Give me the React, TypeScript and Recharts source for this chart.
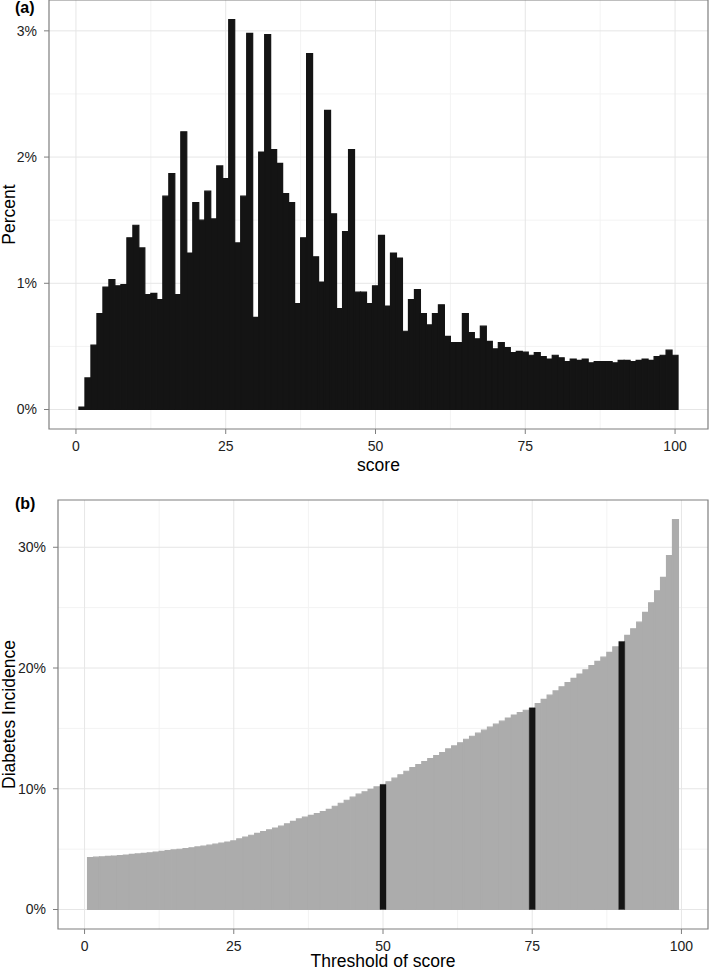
import React from 'react';
import { BarChart, Bar, XAxis, YAxis, CartesianGrid, ReferenceArea } from 'recharts';

// ---------- Panel (a): histogram of score ----------
const scores = [
  1, 2, 3, 4, 5, 6, 7, 8, 9, 10, 11, 12, 13, 14, 15, 16, 17, 18, 19, 20,
  21, 22, 23, 24, 25, 26, 27, 28, 29, 30, 31, 32, 33, 34, 35, 36, 37, 38, 39, 40,
  41, 42, 43, 44, 45, 46, 47, 48, 49, 50, 51, 52, 53, 54, 55, 56, 57, 58, 59, 60,
  61, 62, 63, 64, 65, 66, 67, 68, 69, 70, 71, 72, 73, 74, 75, 76, 77, 78, 79, 80,
  81, 82, 83, 84, 85, 86, 87, 88, 89, 90, 91, 92, 93, 94, 95, 96, 97, 98, 99, 100,
];
const percentValues = [
  0.02, 0.25, 0.51, 0.76, 0.97, 1.03, 0.98, 0.99, 1.36, 1.46,
  1.28, 0.91, 0.92, 0.87, 1.69, 1.87, 0.91, 2.2, 1.24, 1.64,
  1.5, 1.73, 1.51, 1.93, 1.83, 3.09, 1.32, 1.69, 2.98, 0.73,
  2.04, 2.97, 2.06, 1.95, 1.71, 1.64, 0.84, 1.36, 2.82, 1.21,
  1.01, 2.37, 1.55, 0.8, 1.41, 2.06, 0.93, 0.93, 0.84, 0.98,
  1.38, 0.82, 1.24, 1.2, 0.62, 0.87, 0.95, 0.76, 0.67, 0.76,
  0.83, 0.58, 0.53, 0.53, 0.76, 0.61, 0.56, 0.66, 0.54, 0.48,
  0.53, 0.49, 0.45, 0.46, 0.455, 0.43, 0.45, 0.42, 0.4, 0.43,
  0.41, 0.38, 0.4, 0.39, 0.4, 0.37, 0.38, 0.38, 0.38, 0.37,
  0.39, 0.39, 0.38, 0.39, 0.4, 0.39, 0.42, 0.43, 0.47, 0.43,
];
const scoreTicks = [0, 25, 50, 75, 100];
const scoreMinorGrid = [12.5, 37.5, 62.5, 87.5];
const percentTicks = [0, 1, 2, 3];
const percentMinorGrid = [0.5, 1.5, 2.5];

// ---------- Panel (b): incidence by threshold ----------
const thresholds = [
  1, 2, 3, 4, 5, 6, 7, 8, 9, 10, 11, 12, 13, 14, 15, 16, 17, 18, 19, 20,
  21, 22, 23, 24, 25, 26, 27, 28, 29, 30, 31, 32, 33, 34, 35, 36, 37, 38, 39, 40,
  41, 42, 43, 44, 45, 46, 47, 48, 49, 50, 51, 52, 53, 54, 55, 56, 57, 58, 59, 60,
  61, 62, 63, 64, 65, 66, 67, 68, 69, 70, 71, 72, 73, 74, 75, 76, 77, 78, 79, 80,
  81, 82, 83, 84, 85, 86, 87, 88, 89, 90, 91, 92, 93, 94, 95, 96, 97, 98, 99,
];
const incidenceValues = [
  4.3, 4.33, 4.36, 4.4, 4.43, 4.47, 4.51, 4.56, 4.6, 4.65,
  4.7, 4.75, 4.81, 4.87, 4.93, 4.99, 5.05, 5.11, 5.18, 5.25,
  5.33, 5.41, 5.5, 5.59, 5.68, 5.85, 6.0, 6.15, 6.3, 6.45,
  6.6, 6.75, 6.9, 7.1, 7.3, 7.5, 7.65, 7.8, 7.95, 8.1,
  8.3, 8.55, 8.8, 9.05, 9.3, 9.55, 9.75, 9.95, 10.15, 10.36,
  10.58, 10.88, 11.15, 11.45, 11.75, 12.0, 12.25, 12.5, 12.75, 13.0,
  13.3, 13.55, 13.8, 14.1, 14.35, 14.6, 14.85, 15.1, 15.35, 15.6,
  15.85, 16.1, 16.3, 16.5, 16.7, 17.05, 17.4, 17.75, 18.1, 18.45,
  18.8, 19.15, 19.5, 19.85, 20.2, 20.55, 20.9, 21.3, 21.75, 22.2,
  22.7, 23.25, 23.8, 24.6, 25.4, 26.4, 27.5, 29.3, 32.3,
];
const highlightedThresholds = [50, 75, 90];
const thresholdTicks = [0, 25, 50, 75, 100];
const thresholdMinorGrid = [12.5, 37.5, 62.5, 87.5];
const incidenceTicks = [0, 10, 20, 30];
const incidenceMinorGrid = [5, 15, 25];

const histData = scores.map((s, i) => ({ score: s, percent: percentValues[i] }));
const incData = thresholds.map((t, i) => {
  const hi = highlightedThresholds.includes(t);
  return {
    threshold: t,
    incidence: hi ? null : incidenceValues[i],
    highlighted: hi ? incidenceValues[i] : null,
  };
});

const FONT = '"Liberation Sans", Arial, Helvetica, sans-serif';
const BORDER = '#7f7f7f';
const MAJOR = '#e6e6e6';
const MINOR = '#f3f3f3';
const TICK_TEXT = { fill: '#222', fontSize: 14 };
const TITLE_STYLE = { fill: '#000', fontSize: 17.5 };

const aX: [number, number] = [-4.5, 105.5];
const aY: [number, number] = [-0.1545, 3.2445];
const bX: [number, number] = [-4.45, 104.45];
const bY: [number, number] = [-1.615, 33.915];

const aBarSize = ((709 - 49 - 1) / (aX[1] - aX[0])) - 0.01;
const bBarSize = ((709 - 58 - 1) / (bX[1] - bX[0])) - 0.01;

const pct = (v: number) => `${v}%`;

export default function App() {
  return (
    <div style={{ position: 'absolute', left: 0, top: 0, width: 709, height: 969, background: '#fff', fontFamily: FONT }}>
      <div style={{ position: 'absolute', left: 0, top: 0 }}>
        <BarChart width={709} height={480} data={histData} margin={{ top: 0, right: 1, left: 0, bottom: 0 }} barCategoryGap={0} barGap={0} barSize={aBarSize}>
          <CartesianGrid stroke={MINOR} strokeWidth={1} horizontalValues={percentMinorGrid} verticalValues={scoreMinorGrid} />
          <CartesianGrid stroke={MAJOR} strokeWidth={1} horizontalValues={percentTicks} verticalValues={scoreTicks} />
          <XAxis
            dataKey="score"
            type="number"
            domain={aX}
            ticks={scoreTicks}
            allowDataOverflow
            height={51}
            axisLine={false}
            tickLine={{ stroke: BORDER }}
            tickSize={5}
            tickMargin={7}
            tick={TICK_TEXT}
            label={{ value: 'score', position: 'insideBottom', offset: 9, style: TITLE_STYLE }}
          />
          <YAxis
            type="number"
            domain={aY}
            ticks={percentTicks}
            allowDataOverflow
            width={49}
            axisLine={false}
            tickLine={{ stroke: BORDER }}
            tickSize={5}
            tickMargin={7}
            tick={TICK_TEXT}
            tickFormatter={pct}
            label={{ value: 'Percent', angle: -90, position: 'insideLeft', offset: 9, style: { ...TITLE_STYLE, textAnchor: 'middle' } }}
          />
          <Bar dataKey="percent" fill="#141414" stroke="#141414" strokeWidth={1.2} isAnimationActive={false} />
          <ReferenceArea x1={aX[0]} x2={aX[1]} y1={aY[0]} y2={aY[1]} fill="none" stroke={BORDER} strokeWidth={1.2} ifOverflow="visible" />
        </BarChart>
      </div>
      <div style={{ position: 'absolute', left: 0, top: 480 }}>
        <BarChart width={709} height={489} data={incData} margin={{ top: 20, right: 1, left: 0, bottom: 0 }} barCategoryGap={0} barGap={0} barSize={bBarSize}>
          <CartesianGrid stroke={MINOR} strokeWidth={1} horizontalValues={incidenceMinorGrid} verticalValues={thresholdMinorGrid} />
          <CartesianGrid stroke={MAJOR} strokeWidth={1} horizontalValues={incidenceTicks} verticalValues={thresholdTicks} />
          <XAxis
            dataKey="threshold"
            type="number"
            domain={bX}
            ticks={thresholdTicks}
            allowDataOverflow
            height={40}
            axisLine={false}
            tickLine={{ stroke: BORDER }}
            tickSize={5}
            tickMargin={7}
            tick={TICK_TEXT}
            label={{ value: 'Threshold of score', position: 'insideBottom', offset: 2, style: TITLE_STYLE }}
          />
          <YAxis
            type="number"
            domain={bY}
            ticks={incidenceTicks}
            allowDataOverflow
            width={58}
            axisLine={false}
            tickLine={{ stroke: BORDER }}
            tickSize={5}
            tickMargin={7}
            tick={TICK_TEXT}
            tickFormatter={pct}
            label={{ value: 'Diabetes Incidence', angle: -90, position: 'insideLeft', offset: 9, style: { ...TITLE_STYLE, textAnchor: 'middle' } }}
          />
          <Bar dataKey="incidence" stackId="s" fill="#acacac" stroke="#acacac" strokeWidth={1.2} isAnimationActive={false} />
          <Bar dataKey="highlighted" stackId="s" fill="#141414" stroke="#141414" strokeWidth={0.4} isAnimationActive={false} />
          <ReferenceArea x1={bX[0]} x2={bX[1]} y1={bY[0]} y2={bY[1]} fill="none" stroke={BORDER} strokeWidth={1.2} ifOverflow="visible" />
        </BarChart>
      </div>
      <svg width={709} height={969} style={{ position: 'absolute', left: 0, top: 0, pointerEvents: 'none' }}>
        <text x={15} y={13} fontFamily={FONT} fontWeight="bold" fontSize={16} fill="#000">(a)</text>
        <text x={15} y={509} fontFamily={FONT} fontWeight="bold" fontSize={16} fill="#000">(b)</text>
      </svg>
    </div>
  );
}
